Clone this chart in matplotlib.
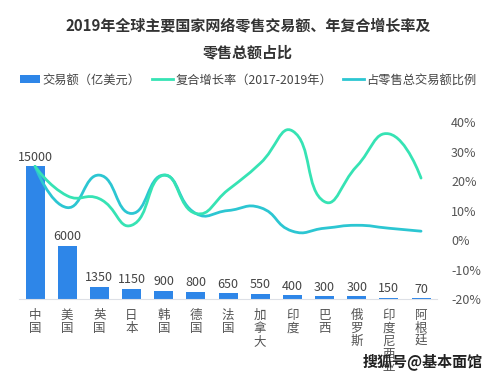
import numpy as np
import matplotlib
matplotlib.use("Agg")
import matplotlib.pyplot as plt
from matplotlib.path import Path
from matplotlib.patches import PathPatch, Patch
from matplotlib.lines import Line2D

plt.rcParams['font.family'] = ['Noto Sans CJK SC', 'DejaVu Sans']

countries = ['中国', '美国', '英国', '日本', '韩国', '德国', '法国', '加拿大',
             '印度', '巴西', '俄罗斯', '印度尼西亚', '阿根廷']
volume = [15000, 6000, 1350, 1150, 900, 800, 650, 550, 400, 300, 300, 150, 70]
growth = [25, 15, 14, 5, 22, 9, 17, 26, 37, 13, 25, 36, 21]
share = [25, 11, 22, 9, 22, 9, 10, 11, 3, 4, 5, 4, 3]

BAR_C = '#2e86e8'
GROWTH_C = '#36e3b4'
SHARE_C = '#2cc6d2'
TXT = '#555555'


def smooth_path(xs, ys, sx, sy, smooth=0.5):
    # echarts-like bezier smoothing, lengths measured in pixel units
    n = len(xs)
    verts = [(xs[0], ys[0])]
    codes = [Path.MOVETO]
    cp_after = (xs[0], ys[0])
    for i in range(1, n):
        x, y = xs[i], ys[i]
        if i < n - 1:
            px, py = xs[i - 1], ys[i - 1]
            nx, ny = xs[i + 1], ys[i + 1]
            vx, vy = nx - px, ny - py
            l0 = np.hypot((x - px) * sx, (y - py) * sy)
            l1 = np.hypot((nx - x) * sx, (ny - y) * sy)
            r = l1 / (l0 + l1) if l0 + l1 else 0.5
            cp_before = (x - vx * smooth * (1 - r), y - vy * smooth * (1 - r))
            nxt_after = (x + vx * smooth * r, y + vy * smooth * r)
        else:
            cp_before = (x, y)
            nxt_after = (x, y)
        verts += [cp_after, cp_before, (x, y)]
        codes += [Path.CURVE4] * 3
        cp_after = nxt_after
    return Path(verts, codes)


fig = plt.figure(figsize=(4.99, 3.79), dpi=100)
ax = fig.add_axes([0.038, 0.211, 0.838, 0.467])
ax2 = ax.twinx()

x = np.arange(len(countries))
bars = ax.bar(x, volume, width=0.59, color=BAR_C, zorder=2)
ax.bar_label(bars, padding=2, fontsize=9, color='#444444')
ax.set_ylim(0, 20000)
ax.set_xlim(-0.5, len(countries) - 0.5)
ax.set_yticks([])
ax.set_xticks(x)
ax.set_xticklabels(['\n'.join(c) for c in countries], fontsize=9, color=TXT,
                   linespacing=1.0, va='top')
ax.tick_params(axis='x', length=0, pad=7)
for s in ['top', 'left', 'right']:
    ax.spines[s].set_visible(False)
ax.spines['bottom'].set_color('#dde0e6')

ax2.set_ylim(-20, 40)
ax2.set_yticks(np.arange(-20, 41, 10))
ax2.set_yticklabels([f'{v}%' for v in range(-20, 41, 10)], fontsize=9, color=TXT)
ax2.tick_params(axis='y', length=0, pad=10)
for s in ['top', 'left', 'right', 'bottom']:
    ax2.spines[s].set_visible(False)

sx, sy = 32.2, 2.95
for vals, col in [(share, SHARE_C), (growth, GROWTH_C)]:
    p = smooth_path(list(x), vals, sx, sy)
    ax2.add_patch(PathPatch(p, facecolor='none', edgecolor=col, lw=2.0,
                            capstyle='round', joinstyle='round'))

fig.text(0.497, 1 - 25 / 379, '2019年全球主要国家网络零售交易额、年复合增长率及',
         ha='center', va='center', fontsize=10.8, fontweight='bold', color='#333333')
fig.text(0.497, 1 - 52 / 379, '零售总额占比',
         ha='center', va='center', fontsize=10.8, fontweight='bold', color='#333333')

handles = [Patch(facecolor=BAR_C, edgecolor='none'),
           Line2D([], [], color=GROWTH_C, lw=2),
           Line2D([], [], color=SHARE_C, lw=2)]
labels = ['交易额（亿美元）', '复合增长率（2017-2019年）', '占零售总交易额比例']
fig.legend(handles, labels, loc='center', bbox_to_anchor=(0.497, 1 - 80 / 379),
           ncol=3, frameon=False, fontsize=8.8, handlelength=1.7, handleheight=0.6,
           handletextpad=0.2, columnspacing=0.9, labelcolor='#444444')

fig.text(0.968, 1 - 362 / 379, '搜狐号@基本面馆', ha='right', va='center',
         fontsize=10.8, fontweight='bold', color='#222222')

fig.savefig('out.png', dpi=100)
